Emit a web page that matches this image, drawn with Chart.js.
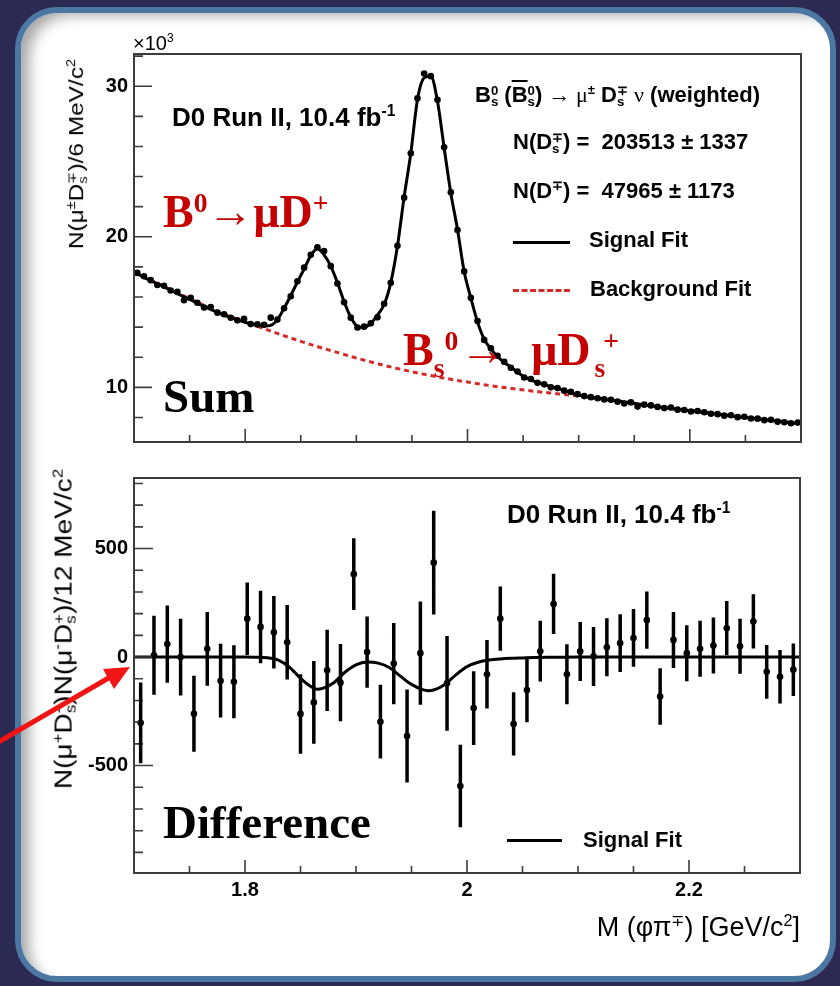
<!DOCTYPE html>
<html>
<head>
<meta charset="utf-8">
<script src="https://cdn.jsdelivr.net/npm/chart.js@4.4.1/dist/chart.umd.min.js"></script>
<style>
  body { margin: 0; width: 840px; height: 986px; background: #2c2a52; position: relative; overflow: hidden; font-family: 'Liberation Sans', Arial, sans-serif; }
  #panel { position: absolute; left: 15px; top: 7px; width: 821px; height: 975px; box-sizing: border-box; border: 6px solid #4d77a3; border-radius: 42px; background: #fff; box-shadow: inset 14px 8px 14px -6px rgba(0,0,0,0.35); }
  canvas { position: absolute; left: 0; }
  .t { position: absolute; white-space: nowrap; color: #000; line-height: 1; }
  .b { font-weight: bold; }
  .sym { font-family: 'Liberation Serif', 'Times New Roman', serif; font-weight: normal; }
  .red { color: #c40000; font-family: 'Liberation Serif', 'Times New Roman', serif; font-weight: bold; font-size: 46px; }
  .red sup { vertical-align: 0.55em; }
  .red sub { vertical-align: -0.45em; }
  .ss { display: inline-flex; flex-direction: column; font-size: 0.6em; line-height: 0.85; vertical-align: 0.55em; text-align: left; }
  sup, sub { font-size: 0.6em; line-height: 0; }
  .rot { position: absolute; white-space: nowrap; transform: translate(-50%, -50%) rotate(-90deg) scaleX(1.22); line-height: 1; }
</style>
</head>
<body>
<div id="panel"></div>
<canvas id="sumChart" width="840" height="460" style="top:0"></canvas>
<canvas id="diffChart" width="840" height="490" style="top:460px"></canvas>

<!-- text on the upper plot -->
<div class="t" style="left:133px; top:33px; font-size:20px;">×10<sup>3</sup></div>
<div class="t b" style="left:172px; top:104px; font-size:26px;">D0 Run II, 10.4 fb<sup>-1</sup></div>
<div class="t b" style="left:475px; top:84px; font-size:22px;">B<span class="ss"><span>0</span><span>s</span></span> (<span style="text-decoration:overline">B</span><span class="ss"><span>0</span><span>s</span></span>) <span class="sym">→ μ</span><sup>±</sup> D<span class="ss"><span>∓</span><span>s</span></span> <span class="sym">ν</span> (weighted)</div>
<div class="t b" style="left:513px; top:131px; font-size:22px;">N(D<span class="ss"><span>∓</span><span>s</span></span>) =&nbsp; 203513 ± 1337</div>
<div class="t b" style="left:513px; top:180px; font-size:22px;">N(D<sup>∓</sup>) =&nbsp; 47965 ± 1173</div>
<div style="position:absolute; left:513px; top:241px; width:57px; height:3px; background:#000;"></div>
<div class="t b" style="left:589px; top:229px; font-size:22px;">Signal Fit</div>
<div style="position:absolute; left:513px; top:289px; width:57px; height:0; border-top:3px dashed #d42a2a;"></div>
<div class="t b" style="left:590px; top:278px; font-size:22px;">Background Fit</div>
<div class="t red" style="left:163px; top:189px;">B<sup>0</sup>→μD<sup>+</sup></div>
<div class="t red" style="left:403px; top:327px;">B<sub>s</sub><sup>0</sup><span style="margin-left:2px; letter-spacing:2px">→</span>&nbsp;&nbsp;μD<sub style="margin-left:4px">s</sub><sup style="margin-left:-2px">+</sup></div>
<div class="t" style="left:163px; top:373px; font-family:'Liberation Serif', serif; font-weight:bold; font-size:47px;">Sum</div>

<!-- text on the lower plot -->
<div class="t b" style="left:507px; top:501px; font-size:26px;">D0 Run II, 10.4 fb<sup>-1</sup></div>
<div class="t" style="left:163px; top:799px; font-family:'Liberation Serif', serif; font-weight:bold; font-size:47px;">Difference</div>
<div style="position:absolute; left:507px; top:839px; width:55px; height:3px; background:#000;"></div>
<div class="t b" style="left:583px; top:829px; font-size:22px;">Signal Fit</div>

<!-- axis titles -->
<div class="rot" style="left:77px; top:154px; font-size:20px;">N(μ<sup>±</sup>D<span class="ss"><span>∓</span><span>s</span></span>)/6 MeV/c<sup>2</sup></div>
<div class="rot" style="left:65px; top:629px; font-size:23px;">N(μ<sup>+</sup>D<span class="ss"><span>-</span><span>s</span></span>)N(μ<sup>-</sup>D<span class="ss"><span>+</span><span>s</span></span>)/12 MeV/c<sup>2</sup></div>
<div class="t" style="right:40px; top:914px; font-size:27px;">M (φπ<sup>∓</sup>) [GeV/c<sup>2</sup>]</div>

<svg width="840" height="986" style="position:absolute; left:0; top:0; pointer-events:none;">
  <line x1="-5" y1="744" x2="112" y2="676" stroke="#f01414" stroke-width="5"/>
  <polygon points="130,667 103,669 114,689" fill="#f01414"/>
</svg>

<script>
// upper plot: N(mu D_s) per 6 MeV, in units of 10^3
const massBins = [
  1.703, 1.709, 1.715, 1.721, 1.727, 1.733, 1.739, 1.745, 1.751, 1.757,
  1.763, 1.769, 1.775, 1.781, 1.787, 1.793, 1.799, 1.805, 1.811, 1.817,
  1.823, 1.829, 1.835, 1.841, 1.847, 1.853, 1.859, 1.865, 1.871, 1.877,
  1.883, 1.889, 1.895, 1.901, 1.907, 1.913, 1.919, 1.925, 1.931, 1.937,
  1.943, 1.949, 1.955, 1.961, 1.967, 1.973, 1.979, 1.985, 1.991, 1.997,
  2.003, 2.009, 2.015, 2.021, 2.027, 2.033, 2.039, 2.045, 2.051, 2.057,
  2.063, 2.069, 2.075, 2.081, 2.087, 2.093, 2.099, 2.105, 2.111, 2.117,
  2.123, 2.129, 2.135, 2.141, 2.147, 2.153, 2.159, 2.165, 2.171, 2.177,
  2.183, 2.189, 2.195, 2.201, 2.207, 2.213, 2.219, 2.225, 2.231, 2.237,
  2.243, 2.249, 2.255, 2.261, 2.267, 2.273, 2.279, 2.285, 2.291, 2.297
];
const sumCounts = [
  17.60, 17.38, 17.12, 16.80, 16.74, 16.43, 16.34, 15.78, 15.95, 15.62,
  15.30, 15.34, 14.96, 14.85, 14.62, 14.45, 14.56, 14.20, 14.18, 14.15,
  14.63, 14.50, 15.25, 16.05, 17.05, 17.95, 18.80, 19.30, 19.05, 18.05,
  16.90, 15.65, 14.63, 13.97, 14.03, 14.25, 14.65, 15.55, 16.95, 19.40,
  22.60, 25.55, 29.20, 30.84, 30.67, 29.10, 25.95, 22.95, 20.45, 17.70,
  15.95, 14.40, 13.15, 12.60, 12.10, 11.70, 11.30, 11.05, 10.65, 10.55,
  10.30, 10.20, 10.00, 9.95, 9.78, 9.70, 9.55, 9.42, 9.35, 9.28,
  9.20, 9.18, 9.05, 8.93, 9.00, 8.72, 8.85, 8.80, 8.70, 8.62,
  8.66, 8.52, 8.50, 8.40, 8.43, 8.35, 8.25, 8.22, 8.12, 8.15,
  8.02, 8.05, 7.93, 7.92, 7.82, 7.85, 7.72, 7.68, 7.62, 7.66
];
const sumSignalFit = [
  17.55, 17.30, 17.08, 16.88, 16.67, 16.45, 16.23, 16.01, 15.80, 15.58,
  15.38, 15.18, 14.98, 14.80, 14.63, 14.48, 14.34, 14.22, 14.12, 14.07,
  14.12, 14.50, 15.25, 16.10, 17.00, 17.85, 18.75, 19.20, 18.80, 18.05,
  16.95, 15.70, 14.65, 14.05, 13.98, 14.25, 14.80, 15.50, 16.96, 19.39,
  22.65, 25.55, 29.12, 30.55, 30.67, 29.00, 25.90, 22.90, 20.49, 17.69,
  15.93, 14.35, 13.20, 12.55, 12.05, 11.65, 11.35, 11.00, 10.70, 10.50,
  10.32, 10.18, 10.05, 9.92, 9.80, 9.65, 9.50, 9.40, 9.33, 9.27,
  9.21, 9.15, 9.09, 9.03, 8.97, 8.90, 8.83, 8.77, 8.71, 8.65,
  8.59, 8.54, 8.49, 8.44, 8.39, 8.33, 8.27, 8.22, 8.16, 8.10,
  8.05, 8.00, 7.95, 7.90, 7.85, 7.80, 7.75, 7.70, 7.65, 7.61
];
const bgMass = [
  1.70, 1.72, 1.74, 1.76, 1.78, 1.80, 1.82, 1.84, 1.86, 1.88, 1.90,
  1.92, 1.94, 1.96, 1.98, 2.00, 2.02, 2.04, 2.06, 2.08, 2.10,
  2.12, 2.14, 2.16, 2.18, 2.20, 2.22, 2.24, 2.26, 2.28, 2.30
];
const bgFit = [
  17.65, 16.95, 16.25, 15.55, 14.90, 14.35, 13.82, 13.30, 12.82, 12.38, 11.95,
  11.55, 11.20, 10.88, 10.60, 10.35, 10.12, 9.92, 9.74, 9.58, 9.42,
  9.25, 9.05, 8.82, 8.62, 8.45, 8.27, 8.08, 7.92, 7.76, 7.60
];

// lower plot: N(mu+ Ds-) - N(mu- Ds+) per 12 MeV
const diffMass = [
  1.706, 1.718, 1.730, 1.742, 1.754, 1.766, 1.778, 1.790, 1.802, 1.814,
  1.826, 1.838, 1.850, 1.862, 1.874, 1.886, 1.898, 1.910, 1.922, 1.934,
  1.946, 1.958, 1.970, 1.982, 1.994, 2.006, 2.018, 2.030, 2.042, 2.054,
  2.066, 2.078, 2.090, 2.102, 2.114, 2.126, 2.138, 2.150, 2.162, 2.174,
  2.186, 2.198, 2.210, 2.222, 2.234, 2.246, 2.258, 2.270, 2.282, 2.294
];
const diffCounts = [
  -303, 8, 60, 0, -261, 38, -109, -114, 177, 139,
  114, 68, -262, -209, -61, -118, 382, 23, -298, -30,
  -364, 18, 435, -121, -594, -235, -79, 177, -308, -152,
  27, 245, -79, 26, 3, 45, 64, 88, 170, -182,
  79, 18, 38, 53, 133, 50, 164, -68, -91, -58
];
const diffErrors = [
  186, 182, 178, 177, 175, 170, 170, 168, 167, 167,
  167, 172, 183, 191, 187, 178, 165, 164, 170, 187,
  214, 238, 239, 218, 190, 170, 158, 148, 146, 148,
  140, 139, 138, 136, 136, 134, 133, 133, 132, 130,
  129, 129, 129, 129, 125, 127, 125, 124, 123, 121
];
const diffFitMass = [
  1.70, 1.72, 1.74, 1.76, 1.78, 1.80, 1.81, 1.82, 1.83, 1.84,
  1.85, 1.86, 1.865, 1.87, 1.88, 1.89, 1.90, 1.91, 1.92, 1.93,
  1.94, 1.95, 1.96, 1.965, 1.97, 1.98, 1.99, 2.00, 2.01, 2.02,
  2.03, 2.04, 2.05, 2.06, 2.08, 2.10, 2.15, 2.20, 2.25, 2.30
];
const diffSignalFit = [
  0, 0, 0, 0, 0, 0, -1, -3, -14, -46,
  -98, -138, -148, -144, -118, -70, -36, -23, -28, -48,
  -88, -126, -150, -155, -152, -126, -82, -44, -24, -14,
  -9, -6, -4, -2, -1, 0, 0, 0, 0, 0
];

const xTickLabels = [1.8, 2.0, 2.2];
const sumTickLabels = [10, 20, 30];
const diffTickLabels = [-500, 0, 500];

const pts = (xs, ys) => xs.map((x, i) => ({ x: x, y: ys[i] }));
const tickFont = { family: 'Liberation Sans', weight: 'bold', size: 20 };
const frameColor = '#3c3c3c';

// ROOT-like frame with inward ticks
const frameTicks = {
  id: 'frameTicks',
  afterDatasetsDraw(chart, args, opts) {
    const { ctx, chartArea: a, scales: { x, y } } = chart;
    ctx.save();
    ctx.strokeStyle = frameColor;
    ctx.lineWidth = 2;
    ctx.strokeRect(a.left, a.top, a.right - a.left, a.bottom - a.top);
    ctx.lineWidth = 1.6;
    ctx.beginPath();
    for (let k = 0; k <= 12; k++) {
      const v = 1.7 + k * 0.05;
      const len = (k % 4 === 2) ? opts.xMajor : opts.xMinor;
      const px = x.getPixelForValue(v);
      ctx.moveTo(px, a.bottom);
      ctx.lineTo(px, a.bottom - len);
    }
    const start = Math.ceil(y.min / opts.yStep) * opts.yStep;
    for (let v = start; v <= y.max; v += opts.yStep) {
      const r = v / opts.yMajorStep;
      const major = Math.abs(r - Math.round(r)) < 1e-6;
      const py = y.getPixelForValue(v);
      ctx.moveTo(a.left, py);
      ctx.lineTo(a.left + (major ? opts.yMajor : opts.yMinor), py);
    }
    ctx.stroke();
    ctx.restore();
  }
};

// vertical error bars for the difference plot
const errorBars = {
  id: 'errorBars',
  afterDatasetsDraw(chart, args, opts) {
    if (!opts.values) return;
    const { ctx, chartArea: a, scales: { x, y } } = chart;
    ctx.save();
    ctx.beginPath();
    ctx.rect(a.left, a.top, a.right - a.left, a.bottom - a.top);
    ctx.clip();
    ctx.strokeStyle = '#000';
    ctx.lineWidth = 3.5;
    ctx.beginPath();
    opts.values.forEach((v, i) => {
      const px = x.getPixelForValue(opts.mass[i]);
      ctx.moveTo(px, y.getPixelForValue(v + opts.errors[i]));
      ctx.lineTo(px, y.getPixelForValue(v - opts.errors[i]));
    });
    ctx.stroke();
    ctx.restore();
  }
};

Chart.register(frameTicks, errorBars);

new Chart(document.getElementById('sumChart'), {
  type: 'scatter',
  data: {
    datasets: [
      {
        label: 'Data',
        data: pts(massBins, sumCounts),
        pointRadius: 3.3,
        pointBackgroundColor: '#000',
        pointBorderWidth: 0
      },
      {
        label: 'Signal Fit',
        data: pts(massBins, sumSignalFit),
        showLine: true,
        borderColor: '#000',
        borderWidth: 3,
        pointRadius: 0,
        cubicInterpolationMode: 'monotone'
      },
      {
        label: 'Background Fit',
        data: pts(bgMass, bgFit),
        showLine: true,
        borderColor: '#d42a2a',
        borderWidth: 3,
        borderDash: [5, 4],
        pointRadius: 0,
        cubicInterpolationMode: 'monotone'
      }
    ]
  },
  options: {
    responsive: false,
    animation: false,
    events: [],
    layout: { padding: { top: 54, right: 39, left: 0, bottom: 0 }, autoPadding: false },
    plugins: {
      legend: { display: false },
      tooltip: { enabled: false },
      frameTicks: { xMajor: 13, xMinor: 7, yStep: 2, yMajorStep: 10, yMajor: 18, yMinor: 9 }
    },
    scales: {
      x: {
        type: 'linear', min: 1.7, max: 2.3,
        grid: { display: false, drawTicks: false },
        border: { display: false },
        ticks: { display: false },
        afterFit: (s) => { s.height = 15; }
      },
      y: {
        min: 6.37, max: 32.14,
        grid: { display: false, drawTicks: false },
        border: { display: false },
        afterBuildTicks: (s) => { s.ticks = sumTickLabels.map(v => ({ value: v })); },
        ticks: { font: tickFont, color: '#000', padding: 6 },
        afterFit: (s) => { s.width = 134; }
      }
    }
  }
});

new Chart(document.getElementById('diffChart'), {
  type: 'scatter',
  data: {
    datasets: [
      {
        label: 'Difference',
        data: pts(diffMass, diffCounts),
        pointRadius: 3.3,
        pointBackgroundColor: '#000',
        pointBorderWidth: 0
      },
      {
        label: 'Signal Fit',
        data: pts(diffFitMass, diffSignalFit),
        showLine: true,
        borderColor: '#000',
        borderWidth: 3,
        pointRadius: 0,
        cubicInterpolationMode: 'monotone'
      }
    ]
  },
  options: {
    responsive: false,
    animation: false,
    events: [],
    layout: { padding: { top: 14, right: 40, left: 0, bottom: 0 }, autoPadding: false },
    plugins: {
      legend: { display: false },
      tooltip: { enabled: false },
      frameTicks: { xMajor: 13, xMinor: 7, yStep: 100, yMajorStep: 500, yMajor: 19, yMinor: 9 },
      errorBars: { mass: diffMass, values: diffCounts, errors: diffErrors }
    },
    scales: {
      x: {
        type: 'linear', min: 1.7, max: 2.3,
        grid: { display: false, drawTicks: false },
        border: { display: false },
        afterBuildTicks: (s) => { s.ticks = xTickLabels.map(v => ({ value: v })); },
        ticks: { font: tickFont, color: '#000', padding: 5, maxRotation: 0, callback: (v) => String(Math.round(v * 10) / 10) },
        afterFit: (s) => { s.height = 77; }
      },
      y: {
        min: -995, max: 825,
        grid: { display: false, drawTicks: false },
        border: { display: false },
        afterBuildTicks: (s) => { s.ticks = diffTickLabels.map(v => ({ value: v })); },
        ticks: { font: tickFont, color: '#000', padding: 6 },
        afterFit: (s) => { s.width = 134; }
      }
    }
  }
});
</script>
</body>
</html>
